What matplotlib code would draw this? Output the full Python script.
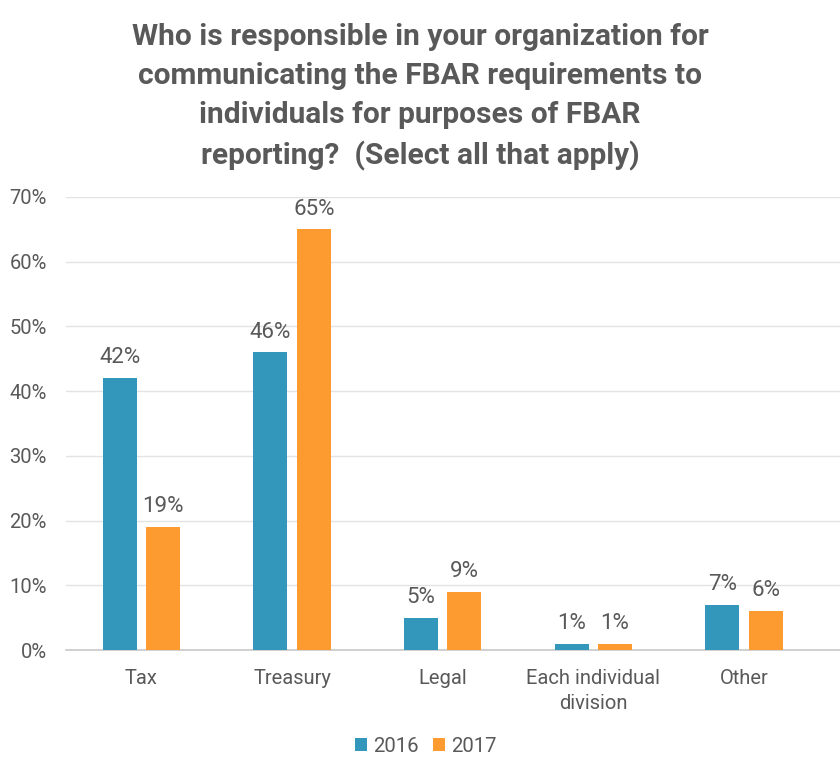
import matplotlib
matplotlib.use("Agg")
import matplotlib.pyplot as plt
import numpy as np

categories = ["Tax", "Treasury", "Legal", "Each individual\ndivision", "Other"]
years = ["2016", "2017"]
values_2016 = [42, 46, 5, 1, 7]
values_2017 = [19, 65, 9, 1, 6]
yticks = [0, 10, 20, 30, 40, 50, 60, 70]
title = ("Who is responsible in your organization for\n"
         "communicating the FBAR requirements to\n"
         "individuals for purposes of FBAR\n"
         "reporting?  (Select all that apply)")

blue = "#3396bb"
orange = "#fd9a30"
txt = "#595959"

plt.rcParams['font.family'] = ['Roboto', 'DejaVu Sans']

W, H = 840, 776
fig = plt.figure(figsize=(W/100, H/100), dpi=100)
fig.patch.set_facecolor("white")

ax_l, ax_r = 66, 840
ax_t, ax_b = 197, 650
ax = fig.add_axes([ax_l/W, 1-ax_b/H, (ax_r-ax_l)/W, (ax_b-ax_t)/H])
ax.set_facecolor("none")

x = np.arange(len(categories))
bw = 0.226
off = 0.1445
b1 = ax.bar(x-off, values_2016, bw, color=blue, label=years[0], zorder=3)
b2 = ax.bar(x+off, values_2017, bw, color=orange, label=years[1], zorder=3)

for bars, vals in ((b1, values_2016), (b2, values_2017)):
    for b, v in zip(bars, vals):
        ax.text(b.get_x()+b.get_width()/2, v+1.5, f"{v}%", ha="center", va="bottom",
                fontsize=16, color=txt)

ax.set_xlim(-0.501, 4.638)
ax.set_ylim(0, 70)
ax.set_yticks(yticks)
ax.set_yticklabels([f"{t}%" for t in yticks])
ax.set_xticks(x)
ax.set_xticklabels(categories, linespacing=1.4)
ax.tick_params(axis="both", length=0, colors=txt)
ax.tick_params(axis="x", labelsize=14.5, pad=14)
ax.tick_params(axis="y", labelsize=14.5, pad=13.7)
for lab in ax.get_yticklabels():
    lab.set_horizontalalignment("right")
ax.grid(axis="y", color="#e3e3e3", linewidth=1, zorder=0)
for s in ("top", "right", "left"):
    ax.spines[s].set_visible(False)
ax.spines["bottom"].set_color("#c8c8c8")
ax.spines["bottom"].set_linewidth(1.2)

fig.text(0.5, 1-23/H, title, ha="center", va="top", fontsize=21.5, fontweight="bold",
         color=txt, linespacing=1.5)

leg = fig.legend(loc="center", bbox_to_anchor=(426/W, 1-746/H), ncol=2, frameon=False,
                 fontsize=14.7, handlelength=0.6, handleheight=0.6, handletextpad=0.3,
                 columnspacing=0.7, labelcolor=txt, borderpad=0)

fig.savefig("out.png", dpi=100, facecolor="white")
